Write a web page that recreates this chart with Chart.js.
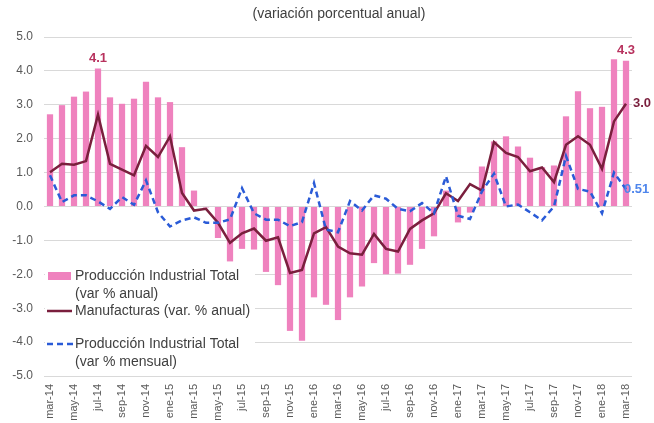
<!DOCTYPE html>
<html><head><meta charset="utf-8">
<script src="https://cdn.jsdelivr.net/npm/chart.js@4/dist/chart.umd.min.js"></script>
<style>html,body{margin:0;padding:0;background:#fff}#wrap{width:654px;height:423px}</style>
</head><body><div id="wrap"><canvas id="c" width="654" height="423"></canvas></div>
<script>
const categories = ['mar-14','abr-14','may-14','jun-14','jul-14','ago-14','sep-14','oct-14','nov-14','dic-14',
  'ene-15','feb-15','mar-15','abr-15','may-15','jun-15','jul-15','ago-15','sep-15','oct-15','nov-15','dic-15',
  'ene-16','feb-16','mar-16','abr-16','may-16','jun-16','jul-16','ago-16','sep-16','oct-16','nov-16','dic-16',
  'ene-17','feb-17','mar-17','abr-17','may-17','jun-17','jul-17','ago-17','sep-17','oct-17','nov-17','dic-17',
  'ene-18','feb-18','mar-18'];
const prodAnual = [2.72,2.99,3.24,3.39,4.07,3.22,3.03,3.18,3.68,3.22,3.08,1.75,0.47,-0.03,-0.93,-1.62,-1.25,-1.27,-1.93,-2.32,-3.67,-3.96,-2.68,-2.90,-3.35,-2.68,-2.36,-1.67,-2.00,-1.98,-1.72,-1.25,-0.88,0.47,-0.47,-0.18,1.18,1.92,2.07,1.77,1.44,1.16,1.21,2.66,3.40,2.90,2.94,4.34,4.30];
const manufacturas = [1.01,1.26,1.23,1.34,2.71,1.26,1.09,0.92,1.79,1.46,2.07,0.40,-0.12,-0.07,-0.48,-1.07,-0.79,-0.65,-1.01,-0.91,-1.96,-1.87,-0.79,-0.61,-1.18,-1.38,-1.42,-0.81,-1.25,-1.33,-0.66,-0.41,-0.20,0.39,0.16,0.66,0.47,1.90,1.58,1.46,1.04,1.15,0.72,1.82,2.07,1.82,1.11,2.51,3.03];
const prodMensual = [0.92,0.13,0.33,0.33,0.15,-0.07,0.28,0.05,0.77,-0.17,-0.59,-0.41,-0.32,-0.48,-0.48,-0.38,0.54,-0.20,-0.39,-0.39,-0.58,-0.46,0.69,-0.68,-0.76,0.16,-0.12,0.33,0.23,-0.07,-0.14,0.10,-0.20,0.89,-0.27,-0.37,0.45,0.97,0.00,0.06,-0.17,-0.41,0.00,1.49,0.52,0.44,-0.20,1.00,0.51];
const titleText = '(variación porcentual anual)';
const seriesNames = [['Producción Industrial Total','(var % anual)'], ['Manufacturas (var. % anual)'], ['Producción Industrial Total','(var % mensual)']];
const yMin = -5, yMax = 5, yStep = 1;

const FONT = '"Liberation Sans", Arial, sans-serif';
const PINK = '#EF82BE', MAROON = '#7A1F3D', BLUE = '#2A5BD7';

const extras = {
  id: 'extras',
  afterDatasetsDraw(chart) {
    const ctx = chart.ctx, ca = chart.chartArea;
    ctx.save();
    // title
    ctx.fillStyle = '#404040';
    ctx.font = '14px ' + FONT;
    ctx.textAlign = 'center'; ctx.textBaseline = 'middle';
    ctx.fillText(titleText, 339, 14);
    // legend
    ctx.fillStyle = '#fff';
    ctx.fillRect(ca.left + 1, 262, 210, 110);
    ctx.font = '14px ' + FONT;
    ctx.textAlign = 'left';
    ctx.fillStyle = PINK; ctx.fillRect(48, 272, 23, 8);
    ctx.fillStyle = '#404040';
    ctx.fillText(seriesNames[0][0], 75, 276);
    ctx.fillText(seriesNames[0][1], 75, 294);
    ctx.strokeStyle = MAROON; ctx.lineWidth = 2.5;
    ctx.beginPath(); ctx.moveTo(47, 311); ctx.lineTo(72, 311); ctx.stroke();
    ctx.fillText(seriesNames[1][0], 75, 311);
    ctx.strokeStyle = BLUE; ctx.setLineDash([6, 4]);
    ctx.beginPath(); ctx.moveTo(47, 344); ctx.lineTo(73, 344); ctx.stroke();
    ctx.setLineDash([]);
    ctx.fillText(seriesNames[2][0], 75, 344);
    ctx.fillText(seriesNames[2][1], 75, 362);
    // data labels
    const barMeta = chart.getDatasetMeta(2);
    ctx.font = 'bold 13px ' + FONT;
    ctx.fillStyle = '#B8325E'; ctx.textAlign = 'center'; ctx.textBaseline = 'bottom';
    [4, 48].forEach(i => {
      const el = barMeta.data[i];
      ctx.fillText(prodAnual[i].toFixed(1), el.x, el.y - 4);
    });
    const last = categories.length - 1;
    const mEl = chart.getDatasetMeta(1).data[last];
    ctx.fillStyle = MAROON; ctx.textAlign = 'left'; ctx.textBaseline = 'middle';
    ctx.fillText(manufacturas[last].toFixed(1), mEl.x + 7, mEl.y);
    const bEl = chart.getDatasetMeta(0).data[last];
    ctx.fillStyle = '#4F86EC';
    ctx.fillText(prodMensual[last].toFixed(2), bEl.x - 2, bEl.y);
    ctx.restore();
  }
};

new Chart(document.getElementById('c'), {
  data: {
    labels: categories,
    datasets: [
      { type: 'line', label: seriesNames[2].join(' '), data: prodMensual, borderColor: BLUE, borderWidth: 2.5,
        borderDash: [6, 4], pointRadius: 0, tension: 0, fill: false, order: 0 },
      { type: 'line', label: seriesNames[1].join(' '), data: manufacturas, borderColor: MAROON, borderWidth: 2.5,
        pointRadius: 0, tension: 0, fill: false, order: 1 },
      { type: 'bar', label: seriesNames[0].join(' '), data: prodAnual, backgroundColor: PINK,
        categoryPercentage: 1, barPercentage: 0.52, order: 2 }
    ]
  },
  options: {
    responsive: false, animation: false, devicePixelRatio: 1,
    layout: { padding: { top: 37, right: 22, bottom: 0, left: 0 } },
    plugins: { legend: { display: false }, tooltip: { enabled: false }, title: { display: false } },
    scales: {
      x: {
        type: 'category', offset: true,
        grid: { display: false, drawTicks: false }, border: { display: false },
        ticks: { autoSkip: false, minRotation: 90, maxRotation: 90, padding: 8,
          color: '#595959', font: { family: FONT, size: 11 },
          callback: (v, i) => (i % 2 === 0 ? categories[i] : '') },
        afterFit: s => { s.height = 47; }
      },
      y: {
        min: yMin, max: yMax,
        grid: { color: '#D9D9D9', lineWidth: 1, drawTicks: false }, border: { display: false },
        ticks: { stepSize: yStep, padding: 11, color: '#595959', font: { family: FONT, size: 12 },
          callback: v => Number(v).toFixed(1) },
        afterFit: s => { s.width = 44; }
      }
    }
  },
  plugins: [extras]
});
</script></body></html>
